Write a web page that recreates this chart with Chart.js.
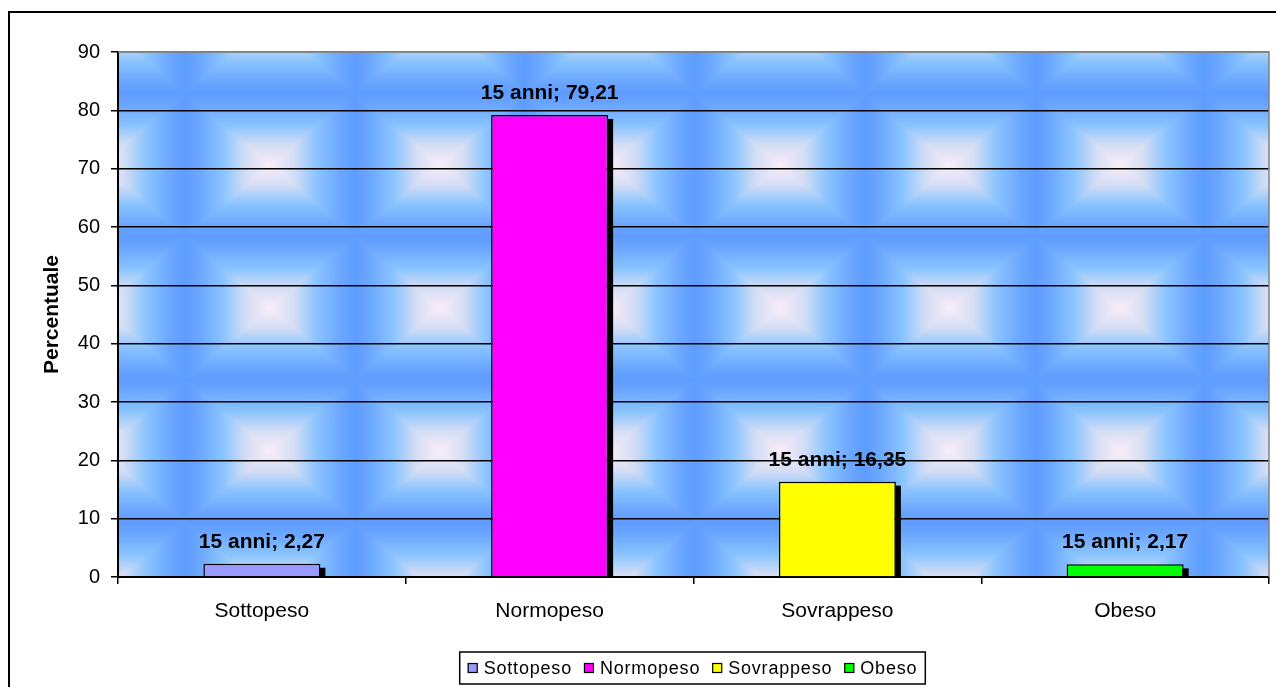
<!DOCTYPE html>
<html>
<head>
<meta charset="utf-8">
<script src="https://cdn.jsdelivr.net/npm/chart.js@4/dist/chart.umd.min.js"></script>
<style>
  html, body { margin: 0; padding: 0; background: #ffffff; }
  #wrap { width: 1276px; height: 687px; }
</style>
</head>
<body>
<div id="wrap"><canvas id="chart" width="1276" height="687"></canvas></div>
<script>
// Weight classes and their share (%) among 15-year-olds
const categories = ['Sottopeso', 'Normopeso', 'Sovrappeso', 'Obeso'];
const percentages = [2.27, 79.21, 16.35, 2.17];
const ageGroup = '15 anni';
const barColors = ['#9999FF', '#FF00FF', '#FFFF00', '#00FF00'];
const yAxisTitle = 'Percentuale';

const FONT = "'Liberation Sans', Arial, sans-serif";

// One dataset per class so each gets its own legend entry; bars are centred on their category
const datasets = categories.map((name, i) => ({
  label: name,
  data: categories.map((_, j) => (j === i ? percentages[i] : null)),
  backgroundColor: barColors[i],
  borderColor: '#000000',
  borderWidth: 1.5,
  borderSkipped: 'bottom',
  grouped: false,
  categoryPercentage: 1,
  barPercentage: 0.4066
}));

// Soft box-gradient tile used as the plot-area texture
function makeTile(w, h) {
  const c = document.createElement('canvas');
  c.width = w; c.height = h;
  const g = c.getContext('2d');
  const img = g.createImageData(w, h);
  const stops = [
    [0.00, [250, 236, 248]],
    [0.28, [212, 222, 244]],
    [0.55, [138, 196, 255]],
    [0.82, [108, 168, 255]],
    [1.00, [94, 156, 255]]
  ];
  for (let y = 0; y < h; y++) {
    for (let x = 0; x < w; x++) {
      const dx = Math.abs(x + 0.5 - w / 2) / (w / 2);
      const dy = Math.abs(y + 0.5 - h / 2) / (h / 2);
      const t = Math.min(1, Math.max(dx, dy));
      let k = 1;
      while (k < stops.length - 1 && stops[k][0] < t) k++;
      const [t0, c0] = stops[k - 1];
      const [t1, c1] = stops[k];
      const f = (t - t0) / (t1 - t0);
      const p = (y * w + x) * 4;
      img.data[p] = c0[0] + (c1[0] - c0[0]) * f;
      img.data[p + 1] = c0[1] + (c1[1] - c0[1]) * f;
      img.data[p + 2] = c0[2] + (c1[2] - c0[2]) * f;
      img.data[p + 3] = 255;
    }
  }
  g.putImageData(img, 0, 0);
  return c;
}
const tile = makeTile(170, 143);

const plotBackground = {
  id: 'plotBackground',
  beforeDraw(chart) {
    const { ctx, chartArea: a } = chart;
    ctx.save();
    ctx.fillStyle = '#ffffff';
    ctx.fillRect(0, 0, chart.width, chart.height);
    ctx.beginPath();
    ctx.rect(a.left, a.top, a.right - a.left, a.bottom - a.top);
    ctx.clip();
    const ox = 185 - 170 * 2, oy = 93.5 - 143;
    for (let x = ox; x < a.right; x += 170) {
      for (let y = oy; y < a.bottom; y += 143) {
        ctx.drawImage(tile, x, y);
      }
    }
    ctx.restore();
  }
};

// Black drop shadow on the right side of each bar
const barShadow = {
  id: 'barShadow',
  beforeDatasetsDraw(chart) {
    const { ctx } = chart;
    ctx.save();
    ctx.fillStyle = '#000000';
    chart.data.datasets.forEach((ds, i) => {
      chart.getDatasetMeta(i).data.forEach((el, j) => {
        if (ds.data[j] == null) return;
        const { x, y, base, width } = el.getProps(['x', 'y', 'base', 'width'], true);
        ctx.fillRect(x + width / 2 - 0.5, y + 4, 5.5, base - y - 4);
      });
    });
    ctx.restore();
  }
};

// "15 anni; value" label above every bar
const valueLabels = {
  id: 'valueLabels',
  afterDatasetsDraw(chart) {
    const { ctx } = chart;
    ctx.save();
    ctx.font = `bold 21px ${FONT}`;
    ctx.fillStyle = '#000000';
    ctx.textAlign = 'center';
    ctx.textBaseline = 'alphabetic';
    chart.data.datasets.forEach((ds, i) => {
      chart.getDatasetMeta(i).data.forEach((el, j) => {
        const v = ds.data[j];
        if (v == null) return;
        const { x, y } = el.getProps(['x', 'y'], true);
        ctx.fillText(`${ageGroup}; ${v.toFixed(2).replace('.', ',')}`, x, y - 16);
      });
    });
    ctx.restore();
  }
};

// Outer frame, plot border and boxed legend
const frameAndLegend = {
  id: 'frameAndLegend',
  afterDraw(chart) {
    const { ctx, chartArea: a } = chart;
    ctx.save();
    // outer frame
    ctx.strokeStyle = '#000000';
    ctx.lineWidth = 2;
    ctx.strokeRect(9, 12, 1400, 900);
    // plot-area border on top and right
    ctx.strokeStyle = '#808080';
    ctx.lineWidth = 1.5;
    ctx.beginPath();
    ctx.moveTo(a.left, a.top);
    ctx.lineTo(a.right, a.top);
    ctx.lineTo(a.right, a.bottom);
    ctx.stroke();

    // legend
    ctx.font = `18px ${FONT}`;
    ctx.letterSpacing = '0.8px';
    ctx.textBaseline = 'middle';
    ctx.textAlign = 'left';
    const items = chart.data.datasets.map(ds => ({ label: ds.label, color: ds.backgroundColor, w: ctx.measureText(ds.label).width }));
    const sq = 10, gapText = 16, gapItem = 12, pad = 8;
    const content = items.reduce((s, it) => s + gapText + it.w, 0) + gapItem * (items.length - 1);
    const boxW = content + pad * 2;
    const cx = 692.5, cy = 668;
    const boxL = cx - boxW / 2;
    ctx.strokeStyle = '#000000';
    ctx.lineWidth = 1.5;
    ctx.strokeRect(boxL, 652, boxW, 32);
    let x = boxL + pad;
    items.forEach(it => {
      ctx.fillStyle = it.color;
      ctx.fillRect(x, cy - sq / 2, sq, sq);
      ctx.lineWidth = 1.2;
      ctx.strokeStyle = '#000000';
      ctx.strokeRect(x + 0.5, cy - sq / 2 + 0.5, sq - 1, sq - 1);
      ctx.fillStyle = '#000000';
      ctx.fillText(it.label, x + gapText, cy + 1);
      x += gapText + it.w + gapItem;
    });
    ctx.restore();
  }
};

new Chart(document.getElementById('chart'), {
  type: 'bar',
  data: { labels: categories, datasets },
  plugins: [plotBackground, barShadow, valueLabels, frameAndLegend],
  options: {
    responsive: false,
    animation: false,
    devicePixelRatio: 1,
    layout: { padding: { left: 25, top: 52, right: 7, bottom: 0 } },
    plugins: {
      legend: { display: false },
      tooltip: { enabled: false }
    },
    scales: {
      x: {
        offset: true,
        afterFit(scale) { scale.height = 110; },
        grid: {
          drawOnChartArea: false,
          drawTicks: true,
          tickLength: 7,
          color: '#000000',
          lineWidth: 1.5,
          offset: true
        },
        border: { color: '#000000', width: 2 },
        ticks: {
          color: '#000000',
          font: { family: FONT, size: 21 },
          padding: 15,
          maxRotation: 0
        }
      },
      y: {
        min: 0,
        max: 90,
        afterFit(scale) { scale.width = 93; },
        ticks: {
          stepSize: 10,
          color: '#000000',
          font: { family: FONT, size: 20 },
          padding: 11
        },
        grid: {
          color: ctx => (ctx.tick && ctx.tick.value === 90 ? '#808080' : '#000000'),
          tickColor: '#000000',
          lineWidth: 1.5,
          tickLength: 7
        },
        border: { color: '#000000', width: 2 },
        title: {
          display: true,
          text: yAxisTitle,
          color: '#000000',
          font: { family: FONT, size: 21, weight: 'bold' },
          padding: { top: 15, bottom: 0 }
        }
      }
    }
  }
});
</script>
</body>
</html>
